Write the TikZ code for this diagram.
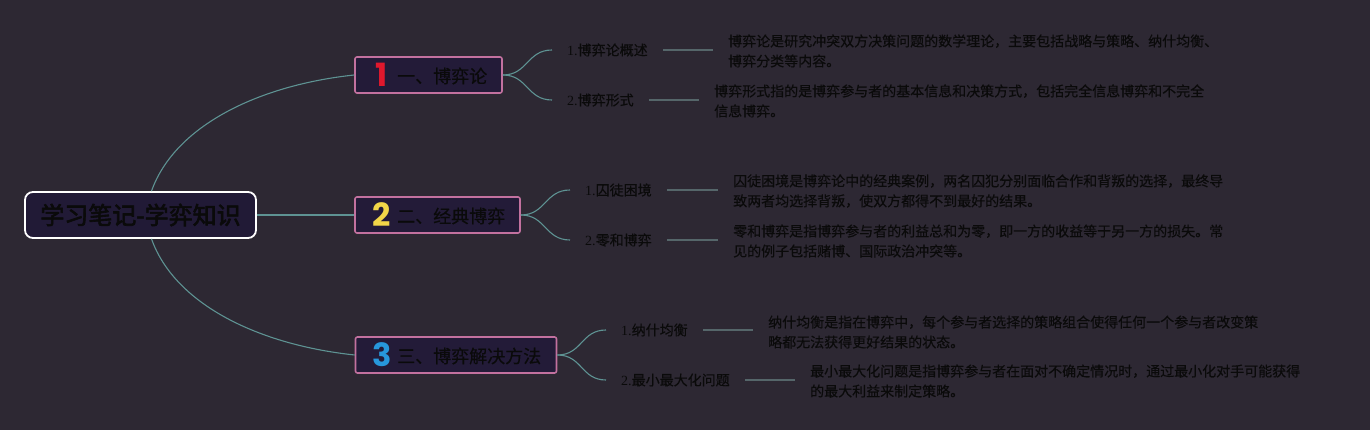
\documentclass[tikz,border=0pt]{standalone}
\usepackage{fontspec}
\setmainfont{Noto Sans CJK SC}
\newfontfamily\rootfnt{Noto Sans CJK SC}[FakeBold=2.5]
\newfontfamily\txtfnt{Noto Sans CJK SC}[FakeBold=0.4]
\newfontfamily\numfont{Poppins}
\newfontfamily\dgfont{Liberation Serif}
\newcommand{\dg}[1]{{\dgfont #1}}
\definecolor{cbg}{HTML}{2D2833}
\definecolor{cboxfill}{HTML}{231B38}
\definecolor{crootfill}{HTML}{211A36}
\definecolor{cpink}{HTML}{C2719F}
\definecolor{cconn}{HTML}{5E9393}
\definecolor{clead}{HTML}{55666A}
\definecolor{ctext}{HTML}{0A0A0A}
\definecolor{cred}{HTML}{E0182D}
\definecolor{cyel}{HTML}{F2D648}
\definecolor{cblue}{HTML}{2797DC}
\begin{document}
\begin{tikzpicture}[x=1pt,y=-1pt,
  conn/.style={draw=cconn, line width=1.1pt},
  lead/.style={draw=clead, line width=1.4pt},
  rootbox/.style={draw=white, line width=1.8pt, fill=crootfill, rounded corners=8pt, minimum width=231pt, minimum height=46pt, inner sep=0pt, font=\rootfnt\fontsize{24}{24}\selectfont, text=ctext},
  topbox/.style={draw=cpink, line width=1.6pt, fill=cboxfill, rounded corners=2pt, minimum height=36pt, inner sep=0pt},
  numsty/.style={font=\numfont\bfseries\fontsize{32}{32}\selectfont, inner sep=0pt},
  toptext/.style={font=\txtfnt\fontsize{18}{18}\selectfont, text=ctext, inner sep=0pt, anchor=west},
  labsty/.style={font=\txtfnt\fontsize{14}{16}\selectfont, text=ctext, inner xsep=15pt, inner ysep=0pt, anchor=west},
  descsty/.style={font=\txtfnt\fontsize{14}{20}\selectfont, text=ctext, inner xsep=15pt, inner ysep=0pt, anchor=west, align=left},
]
\useasboundingbox (0,0) rectangle (1370,430);
\fill[cbg] (0,0) rectangle (1370,430);

% root
\node[rootbox] (root) at (140.5,215) {学习笔记-学弈知识};

% level 1 boxes
\node[topbox, minimum width=147pt] (b1) at (428.5,75) {};
\node[numsty, text=cred] (n1) at (382,74.5) {1};
\node[toptext] (t1) at (397,76) {一、博弈论};

\node[topbox, minimum width=165pt] (b2) at (437.5,215) {};
\node[numsty, text=cyel] (n2) at (382,215) {2};
\node[toptext] (t2) at (397,216) {二、经典博弈};

\node[topbox, minimum width=201pt] (b3) at (456,355) {};
\node[numsty, text=cblue] (n3) at (382,355) {3};
\node[toptext] (t3) at (397,356) {三、博弈解决方法};

% level 2 labels
\node[labsty] (l11) at (552,50) {\dg{1.}博弈论概述};
\node[labsty] (l12) at (552,100) {\dg{2.}博弈形式};
\node[labsty] (l21) at (570,190) {\dg{1.}囚徒困境};
\node[labsty] (l22) at (570,240) {\dg{2.}零和博弈};
\node[labsty] (l31) at (606,330) {\dg{1.}纳什均衡};
\node[labsty] (l32) at (606,380) {\dg{2.}最小最大化问题};

% descriptions
\node[descsty] (d11) at (713,51) {博弈论是研究冲突双方决策问题的数学理论，主要包括战略与策略、纳什均衡、\\博弈分类等内容。};
\node[descsty] (d12) at (699,101) {博弈形式指的是博弈参与者的基本信息和决策方式，包括完全信息博弈和不完全\\信息博弈。};
\node[descsty] (d21) at (718,191) {囚徒困境是博弈论中的经典案例，两名囚犯分别面临合作和背叛的选择，最终导\\致两者均选择背叛，使双方都得不到最好的结果。};
\node[descsty] (d22) at (718,241) {零和博弈是指博弈参与者的利益总和为零，即一方的收益等于另一方的损失。常\\见的例子包括赌博、国际政治冲突等。};
\node[descsty] (d31) at (753,332) {纳什均衡是指在博弈中，每个参与者选择的策略组合使得任何一个参与者改变策\\略都无法获得更好结果的状态。};
\node[descsty] (d32) at (795,381) {最小最大化问题是指博弈参与者在面对不确定情况时，通过最小化对手可能获得\\的最大利益来制定策略。};

% root connectors
\draw[conn] ([xshift=11pt]root.north) .. controls (175,125) and (260,85) .. (b1.west);
\draw[conn] (root.east) -- (b2.west);
\draw[conn] ([xshift=11pt]root.south) .. controls (175,305) and (260,345) .. (b3.west);

% level 1 to level 2
\foreach \b/\l in {b1/l11,b1/l12,b2/l21,b2/l22,b3/l31,b3/l32}{
  \draw[conn] (\b.east) .. controls +(25,0) and +(-25,0) .. (\l.west);
}

% lead lines
\foreach \l/\d in {l11/d11,l12/d12,l21/d21,l22/d22,l31/d31,l32/d32}{
  \draw[lead] (\l.east) -- (\l.east -| \d.west);
}
\end{tikzpicture}
\end{document}
